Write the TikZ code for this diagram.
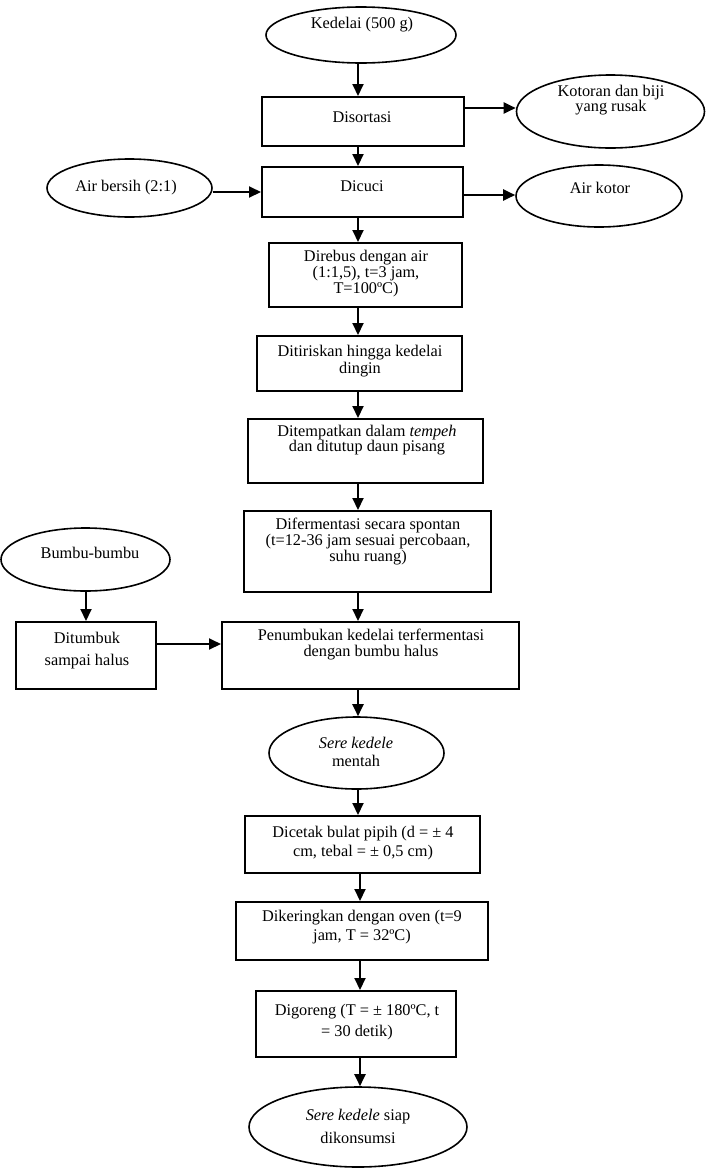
\documentclass[tikz,border=0pt]{standalone}
\usepackage{fontspec}
\setmainfont{Liberation Serif}
\usetikzlibrary{shapes.geometric,arrows.meta}
\begin{document}
\begin{tikzpicture}[x=1pt,y=-1pt,
  box/.style={draw,line width=2pt,inner sep=0pt},
  ell/.style={draw,ellipse,line width=1.6pt,inner sep=0pt},
  txt/.style={align=center,inner sep=0pt,font=\fontsize{16.3}{17}\selectfont},
  arr/.style={line width=2pt,-{Triangle[length=12pt,width=11pt]}}]
\useasboundingbox (0,0) rectangle (706,1168);
\coordinate (ax) at (358,0);
\coordinate (bx) at (360,0);
\coordinate (cx) at (86,0);
\coordinate (y108) at (0,108);
\coordinate (y192) at (0,192);
\coordinate (y195) at (0,195);
\coordinate (y644) at (0,644);
% shapes
\node[ell,minimum width=190,minimum height=56] (kedelai) at (361,35) {};
\node[box,minimum width=202,minimum height=49] (disortasi) at (363,121.5) {};
\node[ell,minimum width=188,minimum height=73] (kotoran) at (610.5,111.5) {};
\node[box,minimum width=201,minimum height=50] (dicuci) at (362.5,192) {};
\node[ell,minimum width=165,minimum height=58] (airbersih) at (129.5,188) {};
\node[ell,minimum width=166,minimum height=62] (airkotor) at (599,196) {};
\node[box,minimum width=193,minimum height=64] (direbus) at (365.5,275) {};
\node[box,minimum width=205,minimum height=55] (ditiriskan) at (359.5,363.5) {};
\node[box,minimum width=235,minimum height=64] (ditempatkan) at (365.5,451) {};
\node[box,minimum width=247,minimum height=81] (difermentasi) at (367.5,551.5) {};
\node[ell,minimum width=169,minimum height=63] (bumbu) at (85.5,559.5) {};
\node[box,minimum width=140,minimum height=67] (ditumbuk) at (86,655.5) {};
\node[box,minimum width=297,minimum height=67] (penumbukan) at (370.5,655.5) {};
\node[ell,minimum width=175,minimum height=72] (sere) at (356.5,753) {};
\node[box,minimum width=235,minimum height=57] (dicetak) at (362.5,844.5) {};
\node[box,minimum width=252,minimum height=58] (dikeringkan) at (362,931) {};
\node[box,minimum width=200,minimum height=66] (digoreng) at (356,1024) {};
\node[ell,minimum width=218,minimum height=80] (siap) at (358,1127) {};
% texts
\node[txt] (tkedelai) at (362,25) {Kedelai (500 g)};
\node[txt] (tdisortasi) at (362,117) {Disortasi};
\node[txt,font=\fontsize{16.3}{15}\selectfont] (tkotoran) at (611,100) {Kotoran dan biji\\yang rusak};
\node[txt] (tdicuci) at (362,186) {Dicuci};
\node[txt] (tairbersih) at (126,188) {Air bersih (2:1)};
\node[txt] (tairkotor) at (600,188) {Air kotor};
\node[txt,font=\fontsize{16.3}{16}\selectfont] (tdirebus) at (366,274) {Direbus dengan air\\(1:1,5), t=3 jam,\\T=100ºC)};
\node[txt] (tditiriskan) at (360,361) {Ditiriskan hingga kedelai\\dingin};
\node[txt,font=\fontsize{16.3}{14}\selectfont] (tditempatkan) at (367,440) {Ditempatkan dalam \textit{tempeh}\\dan ditutup daun pisang};
\node[txt,font=\fontsize{16.3}{16}\selectfont] (tdifermentasi) at (368,542) {Difermentasi secara spontan\\(t=12-36 jam sesuai percobaan,\\suhu ruang)};
\node[txt] (tbumbu) at (90,553) {Bumbu-bumbu};
\node[txt,font=\fontsize{16.3}{22}\selectfont] (tditumbuk) at (87,651) {Ditumbuk\\sampai halus};
\node[txt,font=\fontsize{16.3}{16}\selectfont] (tpenumbukan) at (371,645) {Penumbukan kedelai terfermentasi\\dengan bumbu halus};
\node[txt,font=\fontsize{16.3}{18}\selectfont] (tsere) at (356,752) {\textit{Sere kedele}\\mentah};
\node[txt,font=\fontsize{16.3}{19}\selectfont] (tdicetak) at (363,843) {Dicetak bulat pipih (d = ± 4\\cm, tebal = ± 0,5 cm)};
\node[txt,font=\fontsize{16.3}{19}\selectfont] (tdikeringkan) at (362,927) {Dikeringkan dengan oven (t=9\\jam, T = 32ºC)};
\node[txt,font=\fontsize{16.3}{21}\selectfont] (tdigoreng) at (357,1022) {Digoreng (T = ± 180ºC, t\\= 30 detik)};
\node[txt,font=\fontsize{16.3}{23}\selectfont] (tsiap) at (358,1126) {\textit{Sere kedele} siap\\dikonsumsi};
% connectors
\draw[arr] (kedelai.south -| ax) -- (disortasi.north -| ax);
\draw[arr] (disortasi.south -| ax) -- (dicuci.north -| ax);
\draw[arr] (dicuci.south -| ax) -- (direbus.north -| ax);
\draw[arr] (direbus.south -| ax) -- (ditiriskan.north -| ax);
\draw[arr] (ditiriskan.south -| ax) -- (ditempatkan.north -| ax);
\draw[arr] (ditempatkan.south -| ax) -- (difermentasi.north -| ax);
\draw[arr] (difermentasi.south -| ax) -- (penumbukan.north -| ax);
\draw[arr] (penumbukan.south -| ax) -- (sere.north -| ax);
\draw[arr] (sere.south -| ax) -- (dicetak.north -| ax);
\draw[arr] (dicetak.south -| bx) -- (dikeringkan.north -| bx);
\draw[arr] (dikeringkan.south -| bx) -- (digoreng.north -| bx);
\draw[arr] (digoreng.south -| bx) -- (siap.north -| bx);
\draw[arr] (disortasi.east |- y108) -- (kotoran.west |- y108);
\draw[arr] (airbersih.east |- y192) -- (dicuci.west |- y192);
\draw[arr] (dicuci.east |- y195) -- (airkotor.west |- y195);
\draw[arr] (bumbu.south -| cx) -- (ditumbuk.north -| cx);
\draw[arr] (ditumbuk.east |- y644) -- (penumbukan.west |- y644);
\end{tikzpicture}
\end{document}
